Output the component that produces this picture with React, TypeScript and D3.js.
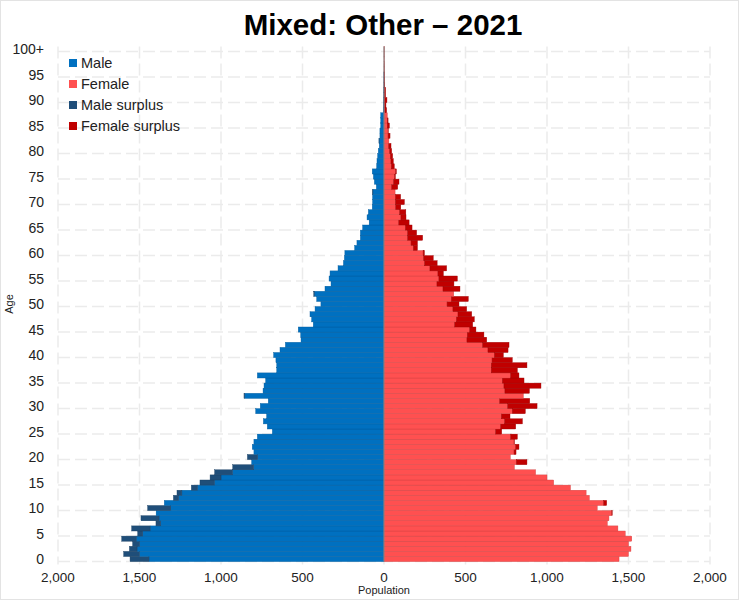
import React from "react";
import * as d3 from "d3";

const ages: number[] = d3.range(0, 101);

const male: number[] = [
  1558, 1597, 1562, 1542, 1609, 1511, 1548, 1399, 1491, 1398,
  1450, 1348, 1292, 1270, 1182, 1129, 1067, 1039, 928, 812,
  838, 798, 808, 798, 777, 685, 716, 740, 720, 787,
  759, 710, 859, 742, 736, 726, 777, 658, 658, 663,
  677, 638, 605, 509, 511, 526, 434, 444, 454, 423,
  387, 413, 431, 362, 325, 337, 331, 282, 249, 243,
  240, 180, 166, 145, 145, 131, 91, 104, 96, 72,
  70, 70, 70, 47, 59, 65, 72, 45, 43, 39,
  35, 29, 31, 25, 25, 20, 20, 20, 5, 4,
  3, 2, 2, 1, 1, 1, 0, 0, 0, 0,
  0,
];

const female: number[] = [
  1442, 1500, 1515, 1500, 1520, 1480, 1435, 1370, 1380, 1400,
  1308, 1366, 1260, 1240, 1144, 1041, 1000, 930, 800, 877,
  775, 810, 828, 800, 818, 722, 808, 849, 773, 867,
  939, 894, 855, 892, 963, 859, 828, 818, 877, 787,
  732, 761, 767, 630, 613, 564, 544, 554, 538, 507,
  460, 517, 428, 466, 429, 450, 364, 384, 326, 302,
  248, 205, 205, 237, 200, 172, 154, 135, 134, 103,
  125, 102, 68, 84, 92, 70, 76, 63, 57, 53,
  47, 43, 30, 37, 26, 33, 25, 20, 16, 12,
  18, 10, 10, 5, 4, 3, 2, 2, 1, 1,
  1,
];

const xTicks: number[] = [-2000, -1500, -1000, -500, 0, 500, 1000, 1500, 2000];
const ageTicks: number[] = [0, 5, 10, 15, 20, 25, 30, 35, 40, 45, 50, 55, 60, 65, 70, 75, 80, 85, 90, 95, 100];
const legendLabels: string[] = ["Male", "Female", "Male surplus", "Female surplus"];
const title = "Mixed: Other \u2013 2021";

const COLORS = {
  male: "#0070c0",
  female: "#ff5050",
  maleSurplus: "#1f4e79",
  femaleSurplus: "#c00000",
};
const legendColors = [COLORS.male, COLORS.female, COLORS.maleSurplus, COLORS.femaleSurplus];

const W = 739;
const H = 600;
const FONT = "'Liberation Sans', Arial, sans-serif";

export default function App() {
  const x = d3.scaleLinear().domain([-2000, 2000]).range([58, 710]);
  const y = d3
    .scaleBand<number>()
    .domain([...ages].reverse())
    .range([46.5, 561.6])
    .padding(0);
  const bh = y.bandwidth();
  const fmt = d3.format(",");

  const stroke = (c: string) => (d3.color(c) as d3.RGBColor).darker(0.6).formatHex();

  const bars: React.ReactNode[] = [];
  ages.forEach((a, i) => {
    const m = male[i];
    const f = female[i];
    const c = Math.min(m, f);
    const yy = y(a) as number;
    if (c > 0) {
      bars.push(
        <rect key={"m" + a} x={x(-c)} y={yy} width={x(0) - x(-c)} height={bh}
          fill={COLORS.male} stroke={stroke(COLORS.male)} strokeWidth={0.4} />
      );
      bars.push(
        <rect key={"f" + a} x={x(0)} y={yy} width={x(c) - x(0)} height={bh}
          fill={COLORS.female} stroke={stroke(COLORS.female)} strokeWidth={0.4} />
      );
    }
    if (m > f) {
      bars.push(
        <rect key={"ms" + a} x={x(-m)} y={yy} width={x(-f) - x(-m)} height={bh}
          fill={COLORS.maleSurplus} stroke={stroke(COLORS.maleSurplus)} strokeWidth={0.4} />
      );
    } else if (f > m) {
      bars.push(
        <rect key={"fs" + a} x={x(m)} y={yy} width={x(f) - x(m)} height={bh}
          fill={COLORS.femaleSurplus} stroke={stroke(COLORS.femaleSurplus)} strokeWidth={0.4} />
      );
    }
  });

  const plotTop = 46.5;
  const plotBottom = 561.6;

  return (
    <svg width={W} height={H} style={{ position: "absolute", left: 0, top: 0, background: "#fff" }}
      fontFamily={FONT}>
      <rect x={0.5} y={0.5} width={W - 1} height={H - 1} fill="#fff" stroke="#e3e3e3" />
      {/* vertical grid */}
      {xTicks.map((t) => (
        <line key={"vg" + t} x1={x(t)} x2={x(t)} y1={plotTop} y2={plotBottom + 3}
          stroke="#ebebeb" strokeWidth={1.5} strokeDasharray="12,5" />
      ))}
      {/* horizontal grid */}
      {ageTicks.map((a) => {
        const yy = (y(a) as number) + bh;
        return (
          <line key={"hg" + a} x1={x(-2000)} x2={x(2000)} y1={yy} y2={yy}
            stroke="#ebebeb" strokeWidth={1.5} strokeDasharray="12,5" />
        );
      })}
      {bars}
      <line x1={x(0)} x2={x(0)} y1={plotTop} y2={plotBottom} stroke="#888" strokeWidth={1} />
      {/* age labels */}
      {ageTicks.map((a) => (
        <text key={"al" + a} x={44} y={(y(a) as number) + bh / 2} textAnchor="end"
          dominantBaseline="central" fontSize={14} fill="#222">
          {a === 100 ? "100+" : String(a)}
        </text>
      ))}
      {/* x labels */}
      {xTicks.map((t) => (
        <text key={"xl" + t} x={x(t)} y={582} textAnchor="middle" fontSize={13.5} fill="#222">
          {fmt(Math.abs(t))}
        </text>
      ))}
      <text x={x(0)} y={594} textAnchor="middle" fontSize={11} fill="#222">Population</text>
      <text transform="translate(13,304) rotate(-90)" textAnchor="middle" fontSize={11} fill="#222">Age</text>
      <text x={383} y={35} textAnchor="middle" fontSize={29.5} fontWeight="bold" fill="#000">{title}</text>
      {/* legend */}
      {legendLabels.map((l, i) => (
        <g key={"lg" + l} transform={`translate(69, ${63 + i * 21})`}>
          <rect x={0} y={-4} width={8} height={8} fill={legendColors[i]} />
          <text x={12} y={0} dominantBaseline="central" fontSize={14.5} fill="#222">{l}</text>
        </g>
      ))}
    </svg>
  );
}
